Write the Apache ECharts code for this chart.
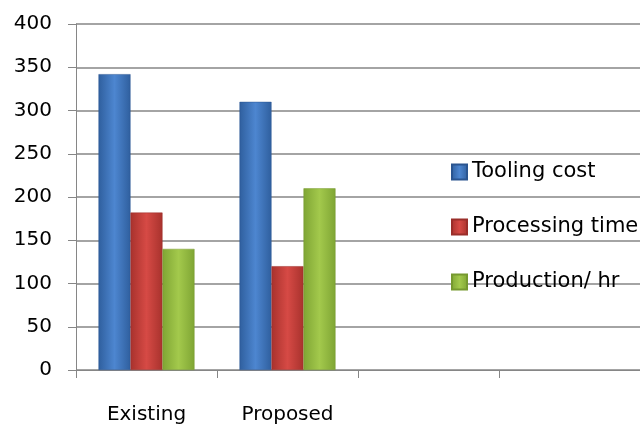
<!DOCTYPE html>
<html>
<head>
<meta charset="utf-8">
<script src="https://cdn.jsdelivr.net/npm/echarts@6/dist/echarts.min.js"></script>
<style>
  html, body { margin: 0; padding: 0; background: #fff; }
  #chart { width: 640px; height: 425px; }
</style>
</head>
<body>
<div id="chart"></div>
<script>
const categories = ['Existing', 'Proposed', '', '']
const toolingCost = [342, 310, null, null]
const processingTime = [182, 120, null, null]
const productionHr = [140, 210, null, null]

function barGrad(edge, mid) {
  return new echarts.graphic.LinearGradient(0, 0, 1, 0, [
    { offset: 0, color: edge },
    { offset: 0.5, color: mid },
    { offset: 1, color: edge },
  ])
}

const chart = echarts.init(document.getElementById('chart'))
const font = 'DejaVu Sans'

chart.setOption({
  animation: false,
  textStyle: { fontFamily: font },
  grid: { left: 76, right: -3, top: 24, bottom: 55 },
  legend: {
    orient: 'vertical',
    left: 446,
    top: 156,
    itemWidth: 15,
    itemHeight: 15,
    itemGap: 33,
    icon: 'rect',
    textStyle: { fontSize: 21, lineHeight: 22, color: '#000', fontFamily: font },
  },
  xAxis: {
    type: 'category',
    data: categories,
    axisLine: { lineStyle: { color: '#868686', width: 1 } },
    axisTick: { show: true, length: 8, lineStyle: { color: '#868686' } },
    axisLabel: { color: '#000', fontSize: 20, margin: 35 },
  },
  yAxis: {
    type: 'value',
    min: 0,
    max: 400,
    interval: 50,
    axisLine: { show: true, lineStyle: { color: '#868686', width: 1 } },
    axisTick: { show: true, length: 8, lineStyle: { color: '#868686' } },
    axisLabel: { color: '#000', fontSize: 20, margin: 24 },
    splitLine: { lineStyle: { color: '#868686', width: 1.5 } },
  },
  series: [
    {
      name: 'Tooling cost',
      type: 'bar',
      data: toolingCost,
      barWidth: 32,
      barGap: '0%',
      itemStyle: { color: barGrad('#2f5f9e', '#4d86d0'), borderColor: '#2a5590', borderWidth: 0.5 },
    },
    {
      name: 'Processing time',
      type: 'bar',
      data: processingTime,
      barWidth: 32,
      barGap: '0%',
      itemStyle: { color: barGrad('#a8322d', '#d64a45'), borderColor: '#9a2e2a', borderWidth: 0.5 },
    },
    {
      name: 'Production/ hr',
      type: 'bar',
      data: productionHr,
      barWidth: 32,
      barGap: '0%',
      itemStyle: { color: barGrad('#7fa534', '#a3c94c'), borderColor: '#76992f', borderWidth: 0.5 },
    },
  ],
})
</script>
</body>
</html>
